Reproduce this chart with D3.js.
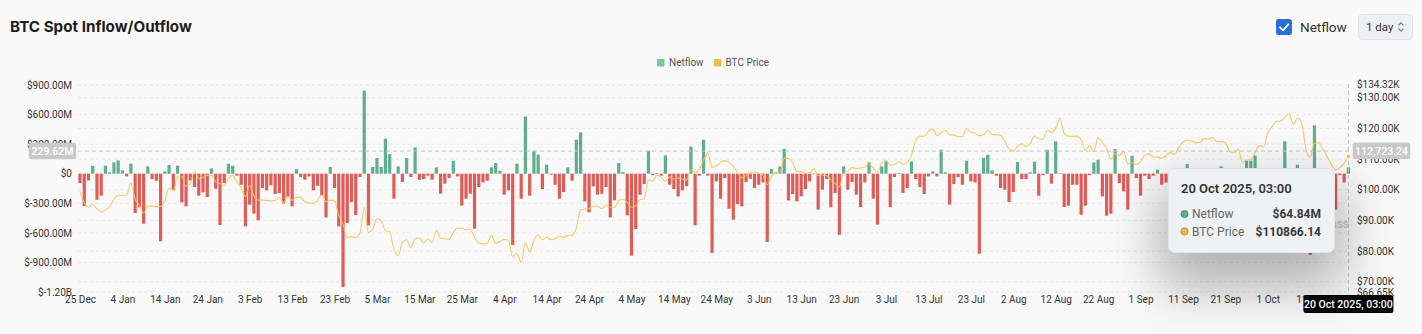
<!DOCTYPE html>
<html>
<head>
<meta charset="utf-8">
<script src="https://cdn.jsdelivr.net/npm/d3@7"></script>
<style>
  html, body { margin: 0; padding: 0; background: #f9f9f9; }
  body { width: 1422px; height: 334px; overflow: hidden; position: relative; font-family: Roboto, "Noto Sans", sans-serif; }
  svg { position: absolute; left: 0; top: 0; }
  #tip {
    position: absolute; left: 1168px; top: 168px; width: 167px; height: 85px;
    box-sizing: border-box; background: #eff2f5; border: 1px solid #e1e5e9; border-radius: 7px;
    box-shadow: 0 26px 50px 10px rgba(0, 0, 0, 0.28);
  }
</style>
</head>
<body>
<script>
// Daily spot netflow, $M, one value per day from 25 Dec 2024 to 20 Oct 2025
const netflow = [
  -95, -330, -68, 81, -264, -223, 81, 14, 115, 135,
  34, -27, 101, -399, -340, -507, 74, -54, -71, -686,
  24, 88, -169, 81, -291, -331, -68, -135, -223, -189,
  -237, 54, -152, -520, -95, 101, 81, -20, -112, -534,
  -314, -405, -473, -145, -169, -118, -206, -196, -304, -237,
  -331, 47, -34, -61, -27, -169, -122, -220, -443, 68,
  -145, -534, -1149, -500, -287, -419, -34, 842, -524, 68,
  159, 68, 355, 199, -253, 74, -85, 159, -34, 267,
  -61, -54, -20, -61, 64, -203, -101, -44, 132, -27,
  -324, -253, -203, -558, -135, -88, -71, 64, 108, 30,
  -213, -169, -723, 101, -253, 581, -223, 233, 193, -155,
  91, -10, -112, -253, -186, 64, -71, 345, 419, -281,
  -392, -128, -213, -203, -135, -443, -270, 108, 17, -422,
  -831, -561, -213, -105, 233, -14, 7, -20, 186, -112,
  -155, -230, -169, -128, 277, -524, -20, 345, -20, -804,
  -78, -253, -44, -355, -466, -307, -331, -85, -51, -145,
  -112, -88, -693, 47, 5, 74, 253, -270, -206, -281,
  -230, -155, -78, -5, -365, -162, -54, -341, -196, -619,
  74, -162, -85, -213, -338, -88, 115, -253, -517, 74,
  125, -338, -34, 7, -196, -145, 125, -54, -135, -206,
  -27, 24, -27, 243, 14, -314, -105, -34, -112, 132,
  -78, -88, -811, 159, 193, 34, -20, -145, -162, -287,
  -186, 118, -54, -54, 14, 122, -223, -14, 243, -101,
  328, 5, -338, -324, -112, -112, -416, -324, -14, 115,
  142, -230, -426, -406, 250, -95, -179, -365, 182, -44,
  -223, -20, -54, -20, 41, -112, -90, -140, -60, -210,
  -35, 98, -120, -180, -45, 20, -95, -260, -150, 74,
  -70, -190, -30, 35, -110, 132, 132, 183, -160, -240,
  -85, -300, -50, 25, 328, -140, -210, 91, -180, -798,
  -822, 490, -260, -130, -40, -200, -365, -15, -88, 64.84
];

// BTC price, $K, same days
const btcPrice = [
  99.4, 95.8, 94.2, 95.2, 93.7, 92.7, 93.4,
  94.4, 96.9, 98.1, 98.2, 98.3, 102.1, 96.9, 95.0, 92.5, 94.7,
  94.6, 94.5, 94.5, 96.5, 100.5, 99.9, 104.1, 104.4, 101.1, 102.0,
  106.1, 103.6, 104.0, 104.7, 104.7, 102.6, 102.0, 101.3, 103.7, 104.7, 102.4,
  100.6, 97.7, 101.4, 97.9, 96.6, 96.6, 96.5, 96.4, 96.5, 97.4,
  95.7, 97.9, 96.6, 97.5, 97.6, 96.1, 95.8, 95.5, 96.6, 98.3,
  96.1, 96.6, 96.3, 91.6, 88.7, 84.3, 84.7, 84.4,
  86.0, 94.3, 86.1, 87.2, 90.6, 89.9, 86.7, 86.2, 80.7, 78.5,
  82.9, 83.7, 81.1, 84.0, 84.3, 82.6, 84.0, 82.7, 86.8, 84.2,
  84.0, 83.8, 86.1, 87.5, 87.4, 86.9, 87.2, 84.4, 82.6, 82.3, 82.5,
  85.2, 82.5, 83.1, 83.8, 83.5, 78.2, 79.2, 76.3, 82.6, 79.6,
  83.4, 85.3, 83.7, 84.5, 83.7, 84.0, 84.9, 84.4, 85.1, 85.2,
  87.5, 93.4, 93.7, 93.9, 94.7, 94.6, 93.8, 95.0, 94.3, 94.2,
  96.5, 96.9, 95.9, 94.3, 94.7, 96.8, 97.0, 103.2, 102.9, 104.7,
  104.1, 102.8, 104.2, 103.5, 103.8, 103.5, 103.2, 106.5, 105.6, 106.8,
  109.7, 111.7, 107.3, 107.8, 109.0, 109.4, 109.0, 107.8, 105.6, 103.9, 104.6,
  105.7, 105.8, 105.4, 104.7, 101.6, 104.3, 105.6, 105.7, 110.3, 110.2,
  108.7, 106.0, 106.0, 105.4, 105.5, 106.9, 104.6, 104.8, 104.6, 103.3,
  102.1, 100.9, 105.5, 106.0, 107.3, 106.9, 107.1, 107.4, 108.4, 107.1,
  105.7, 108.8, 109.6, 108.0, 108.2, 109.2, 108.3, 108.9, 111.3, 115.9,
  117.5, 117.4, 119.1, 119.8, 117.7, 118.7, 119.3, 117.9, 117.9, 117.3,
  117.4, 119.9, 118.8, 118.4, 117.6, 117.9, 119.4, 118.0, 117.9, 117.8, 115.8,
  113.3, 112.6, 114.2, 115.0, 114.1, 115.0, 117.5, 116.7, 116.5, 119.3,
  118.7, 120.1, 123.3, 118.3, 117.4, 117.4, 117.5, 116.3, 112.9, 114.3,
  112.4, 116.9, 115.4, 113.5, 110.1, 111.8, 111.2, 112.5, 108.4, 108.8, 108.2,
  109.2, 111.2, 111.7, 110.7, 110.7, 110.2, 111.1, 112.1, 111.5, 113.9,
  115.5, 116.1, 115.9, 115.3, 115.4, 116.8, 116.5, 117.1, 115.7, 115.7,
  115.3, 112.7, 112.0, 113.3, 109.0, 109.7, 109.7, 112.1, 114.4, 114.0,
  118.6, 120.6, 122.3, 122.4, 123.5, 124.8, 121.4, 123.3, 121.7, 113.2,
  110.6, 115.2, 115.3, 113.1, 110.8, 108.2, 106.5, 107.2, 108.7, 110.86614
];

const firstDay = "2024-12-25";
const tickEveryDays = 10;
const netflowTicks = [900, 600, 300, 0, -300, -600, -900, -1200];
const priceTicks = [134.32, 130, 120, 110, 100, 90, 80, 70, 66.65];
const priceGrid = [130, 120, 110, 100, 90, 80, 70];
const hoverNetflow = 229.62;
const hoverPrice = 112723.24;
const hoverLabel = "20 Oct 2025, 03:00";

const W = 1422, H = 334;
const GREEN = "#5fae90", RED = "#e05c57", GOLD = "#f5c45a";
const FONT = "Roboto, 'Noto Sans', sans-serif";

const start = d3.utcParse("%Y-%m-%d")(firstDay);
const days = d3.utcDay.range(start, d3.utcDay.offset(start, netflow.length));

const x = d3.scaleUtc().domain([days[0], days[days.length - 1]]).range([80, 1348.4]);
const yL = d3.scaleLinear().domain([-1200, 900]).range([292, 85]);
const yR = d3.scaleLinear().domain([66.65, 134.32]).range([292, 84.5]);

const svg = d3.select("body").append("svg").attr("width", W).attr("height", H);

// header
svg.append("text").attr("x", 10).attr("y", 31.5)
  .attr("font-family", "Inter, Roboto, sans-serif").attr("font-weight", 700).attr("font-size", 15.2)
  .attr("fill", "#1d1d1f").text("BTC Spot Inflow/Outflow");

svg.append("rect").attr("x", 1276).attr("y", 19).attr("width", 16).attr("height", 16)
  .attr("rx", 3).attr("fill", "#2a6fd5");
svg.append("path").attr("d", "M1280 27.3 L1283 30.3 L1288.3 24.3")
  .attr("fill", "none").attr("stroke", "#fff").attr("stroke-width", 1.8)
  .attr("stroke-linecap", "round").attr("stroke-linejoin", "round");
svg.append("text").attr("x", 1300).attr("y", 31.5).attr("font-family", FONT)
  .attr("font-size", 13.5).attr("fill", "#333").text("Netflow");

svg.append("rect").attr("x", 1358.5).attr("y", 14.5).attr("width", 54).attr("height", 25)
  .attr("rx", 4).attr("fill", "#eef1f4").attr("stroke", "#dfe3e8");
svg.append("text").attr("x", 1366).attr("y", 30.5).attr("font-family", FONT)
  .attr("font-size", 11.5).attr("fill", "#333").text("1 day");
svg.append("path").attr("d", "M1398.5 25.3 L1401 22.8 L1403.5 25.3 M1398.5 28.7 L1401 31.2 L1403.5 28.7")
  .attr("fill", "none").attr("stroke", "#777").attr("stroke-width", 1.1);

// legend
const legend = svg.append("g").attr("font-family", FONT).attr("font-size", 10).attr("fill", "#555");
legend.append("rect").attr("x", 657).attr("y", 59).attr("width", 7.5).attr("height", 7.5).attr("fill", "#7cc98f");
legend.append("text").attr("x", 669).attr("y", 66).text("Netflow");
legend.append("rect").attr("x", 714).attr("y", 59).attr("width", 7.5).attr("height", 7.5).attr("fill", "#efbc4e");
legend.append("text").attr("x", 725.5).attr("y", 66).text("BTC Price");

// grid
const grid = svg.append("g").attr("stroke", "#e8e8e8").attr("stroke-dasharray", "3,3");
netflowTicks.forEach(v => grid.append("line").attr("x1", 78).attr("x2", 1350)
  .attr("y1", yL(v)).attr("y2", yL(v)));
priceGrid.forEach(v => grid.append("line").attr("x1", 78).attr("x2", 1350)
  .attr("y1", yR(v)).attr("y2", yR(v)));

// netflow bars
const bw = 3.2;
svg.append("g").selectAll("rect").data(netflow).join("rect")
  .attr("x", (v, i) => x(days[i]) - bw / 2)
  .attr("width", bw)
  .attr("y", v => Math.min(yL(v), yL(0)))
  .attr("height", v => Math.abs(yL(v) - yL(0)))
  .attr("fill", v => v >= 0 ? GREEN : RED);

// price line
const line = d3.line().x((v, i) => x(days[i])).y(v => yR(v)).curve(d3.curveMonotoneX);
svg.append("path").datum(btcPrice).attr("d", line)
  .attr("fill", "none").attr("stroke", GOLD).attr("stroke-width", 1.1).attr("stroke-opacity", 0.9);

// axes
const fmtFlow = v => v === 0 ? "$0" : Math.abs(v) >= 1000 ? "$" + (v / 1000).toFixed(2) + "B" : "$" + v.toFixed(2) + "M";
const fmtPrice = v => "$" + v.toFixed(2) + "K";

function styleAxis(g) {
  g.select(".domain").remove();
  g.selectAll("line").remove();
  g.selectAll("text").attr("font-family", FONT).attr("font-size", 10).attr("fill", "#333");
}

svg.append("g").attr("transform", "translate(72,0)")
  .call(d3.axisLeft(yL).tickValues(netflowTicks).tickFormat(fmtFlow).tickSize(0).tickPadding(0))
  .call(styleAxis);

svg.append("g").attr("transform", "translate(1357,0)")
  .call(d3.axisRight(yR).tickValues(priceTicks).tickFormat(fmtPrice).tickSize(0).tickPadding(0))
  .call(styleAxis);

const xTicks = d3.utcDay.range(start, d3.utcDay.offset(days[days.length - 1], 1), tickEveryDays);
svg.append("g").attr("transform", "translate(0,296)")
  .call(d3.axisBottom(x).tickValues(xTicks).tickFormat(d3.utcFormat("%-d %b")).tickSize(0).tickPadding(0))
  .call(styleAxis)
  .selectAll("text").attr("dy", "0.71em");

// watermark behind the tooltip
svg.append("text").attr("x", 1349).attr("y", 228).attr("text-anchor", "end")
  .attr("font-family", FONT).attr("font-weight", 700).attr("font-size", 12)
  .attr("fill", "#cfcfcf").text("coinglass");

// crosshair
const last = days.length - 1;
const hx = x(days[last]);
const hy = yL(hoverNetflow);
svg.append("line").attr("x1", 78).attr("x2", 1350).attr("y1", hy).attr("y2", hy)
  .attr("stroke", "#c4c4c4").attr("stroke-dasharray", "4,3");
svg.append("line").attr("x1", hx).attr("x2", hx).attr("y1", 84).attr("y2", 292)
  .attr("stroke", "#c4c4c4").attr("stroke-dasharray", "4,3");
svg.append("circle").attr("cx", hx).attr("cy", yR(btcPrice[last])).attr("r", 2.3)
  .attr("fill", GOLD).attr("stroke", "#fff").attr("stroke-width", 0.8);

// tooltip box
d3.select("body").append("div").attr("id", "tip");

// overlay: tooltip contents and crosshair labels
const overlay = d3.select("body").append("svg").attr("width", W).attr("height", H)
  .style("pointer-events", "none");

overlay.append("text").attr("x", 1181).attr("y", 192.5).attr("font-family", FONT)
  .attr("font-size", 13).attr("font-weight", 600).attr("fill", "#333").text(hoverLabel);

const rows = [
  { name: "Netflow", color: GREEN, edge: "#3f8a6d", value: "$" + netflow[last].toFixed(2) + "M", y: 218.3 },
  { name: "BTC Price", color: "#eebb45", edge: "#b78a28", value: "$" + (btcPrice[last] * 1000).toFixed(2), y: 235.7 }
];
rows.forEach(r => {
  overlay.append("circle").attr("cx", 1184.5).attr("cy", r.y - 4.3).attr("r", 3.6)
    .attr("fill", r.color).attr("stroke", r.edge).attr("stroke-width", 0.9);
  overlay.append("text").attr("x", 1192).attr("y", r.y).attr("font-family", FONT)
    .attr("font-size", 12).attr("fill", "#666").text(r.name);
  overlay.append("text").attr("x", 1321).attr("y", r.y).attr("text-anchor", "end").attr("font-family", FONT)
    .attr("font-size", 12).attr("font-weight", 700).attr("fill", "#3a3a3a").text(r.value);
});

function tag(cx, cy, w, h, fill, txt, size) {
  overlay.append("rect").attr("x", cx - w / 2).attr("y", cy - h / 2).attr("width", w).attr("height", h)
    .attr("rx", 2.5).attr("fill", fill);
  overlay.append("text").attr("x", cx).attr("y", cy).attr("dy", "0.36em").attr("text-anchor", "middle")
    .attr("font-family", FONT).attr("font-size", size).attr("font-weight", 500).attr("fill", "#fff").text(txt);
}
tag(52.5, hy, 47.5, 16.5, "#c9c9c9", hoverNetflow.toFixed(2) + "M", 10.5);
tag(1381.5, yR(hoverPrice / 1000), 57.5, 16.5, "#c9c9c9", d3.format(",.2f")(hoverPrice), 10.5);
tag(hx, 304, 90, 18, "#000", hoverLabel, 10.5);
</script>
</body>
</html>
